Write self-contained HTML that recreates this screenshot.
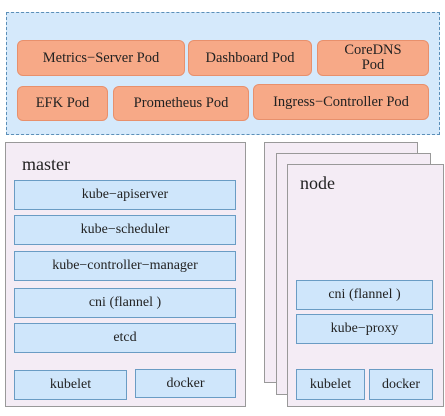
<!DOCTYPE html>
<html><head><style>
body{margin:0;width:445px;height:416px;background:#fff;position:relative;overflow:hidden;color:#222}
*{font-family:"Liberation Serif","DejaVu Serif",serif}
div{position:absolute;box-sizing:border-box}
.pod{background:#f7a987;border:1px solid #e8906c;border-radius:6px;display:flex;align-items:center;justify-content:center;text-align:center;font-size:14.5px;line-height:15px}
.b{background:#cfe6fb;border:1px solid #6a9cc4;display:flex;align-items:center;justify-content:center;font-size:14px}
.pane{background:#f4ecf5;border:1px solid #999}
</style></head><body>
<div style="left:6px;top:12px;width:434px;height:123px;background:#d5e9fb;border:1px dashed #5b8fb8"></div>
<div class="pod" style="left:17px;top:40px;width:168px;height:36px">Metrics−Server Pod</div>
<div class="pod" style="left:188px;top:40px;width:124px;height:36px">Dashboard Pod</div>
<div class="pod" style="left:317px;top:40px;width:112px;height:36px">CoreDNS<br>Pod</div>
<div class="pod" style="left:17px;top:86px;width:91px;height:35px">EFK Pod</div>
<div class="pod" style="left:113px;top:86px;width:136px;height:35px">Prometheus Pod</div>
<div class="pod" style="left:253px;top:84px;width:176px;height:36px">Ingress−Controller Pod</div>

<div class="pane" style="left:5px;top:142px;width:241px;height:265px"></div>
<div style="left:22px;top:154px;font-size:18px">master</div>
<div class="b" style="left:14px;top:180px;width:222px;height:30px">kube−apiserver</div>
<div class="b" style="left:14px;top:215px;width:222px;height:30px">kube−scheduler</div>
<div class="b" style="left:14px;top:251px;width:222px;height:30px">kube−controller−manager</div>
<div class="b" style="left:14px;top:288px;width:222px;height:30px">cni (flannel )</div>
<div class="b" style="left:14px;top:323px;width:222px;height:30px">etcd</div>
<div class="b" style="left:14px;top:370px;width:113px;height:30px">kubelet</div>
<div class="b" style="left:135px;top:369px;width:101px;height:29px">docker</div>

<div class="pane" style="left:264px;top:142px;width:154px;height:241px"></div>
<div class="pane" style="left:276px;top:153px;width:155px;height:242px"></div>
<div class="pane" style="left:287px;top:164px;width:157px;height:243px"></div>
<div style="left:300px;top:173px;font-size:18px">node</div>
<div class="b" style="left:296px;top:280px;width:137px;height:30px">cni (flannel )</div>
<div class="b" style="left:296px;top:314px;width:137px;height:30px">kube−proxy</div>
<div class="b" style="left:296px;top:369px;width:69px;height:31px">kubelet</div>
<div class="b" style="left:369px;top:369px;width:64px;height:31px">docker</div>
</body></html>
